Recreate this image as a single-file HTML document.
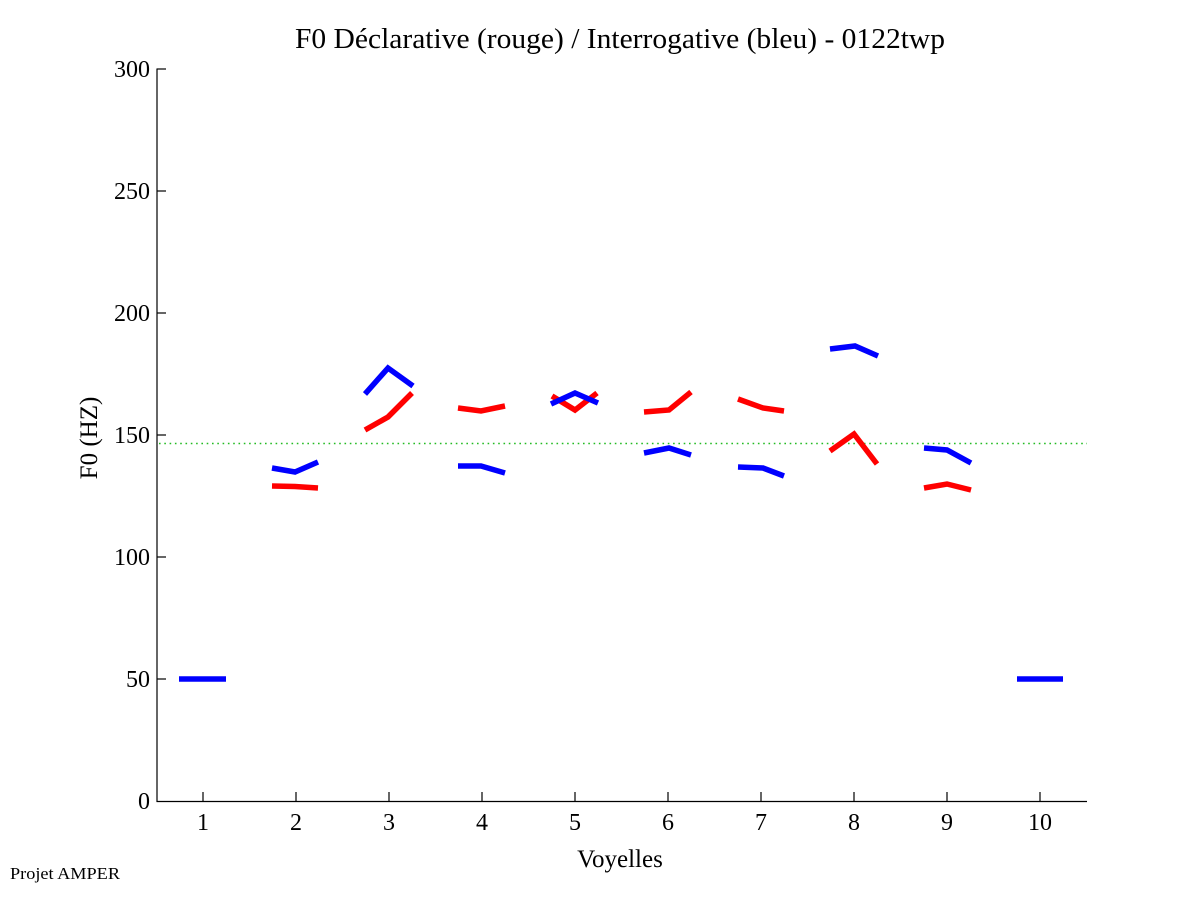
<!DOCTYPE html>
<html>
<head>
<meta charset="utf-8">
<style>
  html, body { margin: 0; padding: 0; background: #fff; }
  svg { display: block; }
  text { font-family: "Liberation Serif", "DejaVu Serif", serif; fill: #000; }
</style>
</head>
<body>
<svg width="1201" height="901" viewBox="0 0 1201 901" xmlns="http://www.w3.org/2000/svg">
  <rect x="0" y="0" width="1201" height="901" fill="#fff"/>

  <!-- Title -->
  <text x="620" y="48" font-size="29" text-anchor="middle" textLength="650" lengthAdjust="spacingAndGlyphs">F0 Déclarative (rouge) / Interrogative (bleu) - 0122twp</text>

  <!-- Axes -->
  <line x1="157" y1="68.5" x2="157" y2="802" stroke="#000" stroke-width="1.2"/>
  <line x1="156.5" y1="801.5" x2="1087" y2="801.5" stroke="#000" stroke-width="1.2"/>

  <!-- Y ticks -->
  <g stroke="#000" stroke-width="1.2">
    <line x1="157" y1="69" x2="166" y2="69"/>
    <line x1="157" y1="191" x2="166" y2="191"/>
    <line x1="157" y1="313" x2="166" y2="313"/>
    <line x1="157" y1="435" x2="166" y2="435"/>
    <line x1="157" y1="557" x2="166" y2="557"/>
    <line x1="157" y1="679" x2="166" y2="679"/>
  </g>
  <g font-size="24" text-anchor="end">
    <text x="150" y="77">300</text>
    <text x="150" y="199">250</text>
    <text x="150" y="321">200</text>
    <text x="150" y="443">150</text>
    <text x="150" y="565">100</text>
    <text x="150" y="687">50</text>
    <text x="150" y="809">0</text>
  </g>

  <!-- X ticks -->
  <g stroke="#000" stroke-width="1.2">
    <line x1="203" y1="792" x2="203" y2="801"/>
    <line x1="296" y1="792" x2="296" y2="801"/>
    <line x1="389" y1="792" x2="389" y2="801"/>
    <line x1="482" y1="792" x2="482" y2="801"/>
    <line x1="575" y1="792" x2="575" y2="801"/>
    <line x1="668" y1="792" x2="668" y2="801"/>
    <line x1="761" y1="792" x2="761" y2="801"/>
    <line x1="854" y1="792" x2="854" y2="801"/>
    <line x1="947" y1="792" x2="947" y2="801"/>
    <line x1="1040" y1="792" x2="1040" y2="801"/>
  </g>
  <g font-size="24" text-anchor="middle">
    <text x="203" y="830">1</text>
    <text x="296" y="830">2</text>
    <text x="389" y="830">3</text>
    <text x="482" y="830">4</text>
    <text x="575" y="830">5</text>
    <text x="668" y="830">6</text>
    <text x="761" y="830">7</text>
    <text x="854" y="830">8</text>
    <text x="947" y="830">9</text>
    <text x="1040" y="830">10</text>
  </g>

  <!-- Axis labels -->
  <text x="620" y="867" font-size="25" text-anchor="middle">Voyelles</text>
  <text x="0" y="0" font-size="25" text-anchor="middle" transform="translate(97,438) rotate(-90)">F0 (HZ)</text>

  <!-- Footer -->
  <text x="10" y="879" font-size="17" textLength="110" lengthAdjust="spacingAndGlyphs">Projet AMPER</text>

  <!-- Green dotted mean line -->
  <line x1="159" y1="443.5" x2="1087" y2="443.5" stroke="#22bb22" stroke-width="1.6" stroke-dasharray="1.6 3.7"/>

  <!-- Red (déclarative) -->
  <g fill="none" stroke="#ff0000" stroke-width="5.5" stroke-linejoin="miter" stroke-linecap="butt">
    <polyline points="272,486 295,486.5 318,488"/>
    <polyline points="365,430 388,417 412,393"/>
    <polyline points="458,408 481,411 505,406"/>
    <polyline points="552,396 575,410 597,393"/>
    <polyline points="644,412 669,410 691,392"/>
    <polyline points="738,399 763,408 784,411"/>
    <polyline points="830,451 854,434 877,464"/>
    <polyline points="924,488 947,484 971,490"/>
  </g>

  <!-- Blue (interrogative) -->
  <g fill="none" stroke="#0000ff" stroke-width="5.5" stroke-linejoin="miter" stroke-linecap="butt">
    <polyline points="179,679 226,679"/>
    <polyline points="272,468 295,472 318,462"/>
    <polyline points="365,394 388,368 413,386"/>
    <polyline points="458,466 481,466 505,473"/>
    <polyline points="551,404 575,393 598,403"/>
    <polyline points="644,453 669,448 691,455"/>
    <polyline points="738,467 763,468 784,476"/>
    <polyline points="830,349 855,346 878,356"/>
    <polyline points="924,448 947,450 971,463"/>
    <polyline points="1017,679 1063,679"/>
  </g>
</svg>
</body>
</html>
